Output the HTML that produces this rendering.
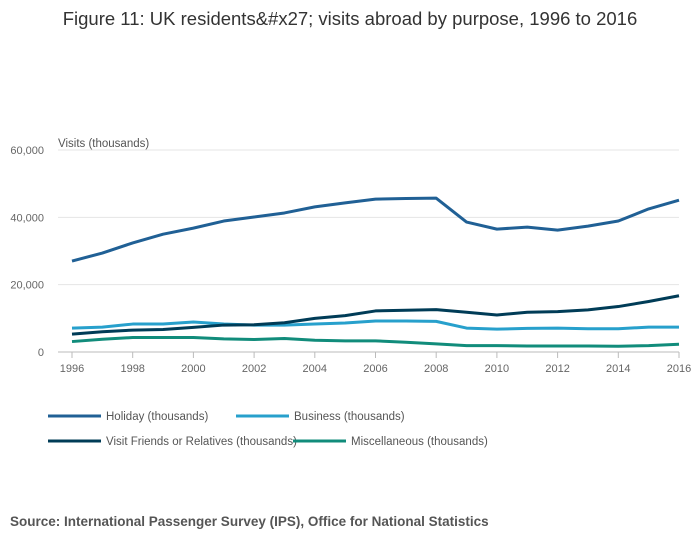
<!DOCTYPE html>
<html><head><meta charset="utf-8"><style>
body{margin:0;background:#fff;width:700px;height:549px;overflow:hidden;font-family:"Liberation Sans",sans-serif}
</style></head><body>
<svg width="700" height="549" xmlns="http://www.w3.org/2000/svg">
<text x="350" y="25" text-anchor="middle" font-size="18.5" fill="#333">Figure 11: UK residents&amp;#x27; visits abroad by purpose, 1996 to 2016</text>
<text x="58" y="147" font-size="11.5" fill="#555">Visits (thousands)</text>
<g id="grid"></g><g id="lines"></g><g id="legend"></g>
<text x="10" y="526" font-size="13.5" font-weight="bold" fill="#555">Source: International Passenger Survey (IPS), Office for National Statistics</text>
</svg>
<script>
const years=[1996,1997,1998,1999,2000,2001,2002,2003,2004,2005,2006,2007,2008,2009,2010,2011,2012,2013,2014,2015,2016];
const holiday=[27000,29400,32400,35000,36800,38900,40100,41300,43100,44300,45400,45600,45700,38600,36500,37100,36200,37400,38900,42500,45100];
const business=[7100,7400,8300,8300,8900,8300,8000,8000,8300,8600,9200,9200,9100,7100,6800,7000,7100,6900,6900,7400,7400];
const vfr=[5300,6000,6500,6700,7300,8000,8100,8700,10000,10800,12200,12400,12600,11800,11000,11800,12000,12500,13500,15000,16700];
const misc=[3100,3800,4300,4300,4300,3900,3700,4000,3500,3300,3300,2900,2400,1900,1900,1800,1800,1800,1700,1900,2300];
const yTicks=[0,20000,40000,60000];
const xTicks=[1996,1998,2000,2002,2004,2006,2008,2010,2012,2014,2016];
const NS="http://www.w3.org/2000/svg";
const x=v=>72+(v-1996)*(607/20);
const y=v=>352-v*(202/60000);
function mk(t,a,p){const e=document.createElementNS(NS,t);for(const k in a)e.setAttribute(k,a[k]);p.appendChild(e);return e;}
const g=document.getElementById('grid');
yTicks.forEach(t=>{
 const l=mk('line',{x1:58,x2:679,y1:y(t),y2:y(t),stroke:t===0?'#bbb':'#e4e4e4','stroke-width':1},g);
 
 
 const tx=mk('text',{x:44,y:y(t)+4,'text-anchor':'end','font-size':11,fill:'#666'},g);
 tx.textContent=t.toLocaleString('en-GB');
 
 
});
xTicks.forEach(t=>{
 const l=mk('line',{x1:x(t),x2:x(t),y1:352,y2:358,stroke:'#bbb'},g);
 
 
 const tx=mk('text',{x:x(t),y:372,'text-anchor':'middle','font-size':11,fill:'#666'},g);
 tx.textContent=t;
 
 
});
const series=[
 {n:'Holiday (thousands)',d:holiday,c:'#206095',k:'holiday'},
 {n:'Business (thousands)',d:business,c:'#27a0cc',k:'business'},
 {n:'Visit Friends or Relatives (thousands)',d:vfr,c:'#003c57',k:'vfr'},
 {n:'Miscellaneous (thousands)',d:misc,c:'#118c7b',k:'misc'}];
const L=document.getElementById('lines'),LG=document.getElementById('legend');
const order=[1,0,2,3];
order.forEach(i=>{const s=series[i];
 const p=mk('polyline',{points:s.d.map((v,j)=>x(years[j])+','+y(v)).join(' '),fill:'none',stroke:s.c,'stroke-width':3,'stroke-linejoin':'round'},L);
 
 
});
const legX=[48,236,48,293];
series.forEach((s,i)=>{
 const lx=legX[i], ly=i<2?416:441;
 const l=mk('line',{x1:lx,x2:lx+53,y1:ly,y2:ly,stroke:s.c,'stroke-width':3},LG);
 
 
 const t=mk('text',{x:lx+58,y:ly+4,'font-size':11.5,fill:'#555'},LG);
 t.textContent=s.n;
 
 
});
</script>
</body></html>
